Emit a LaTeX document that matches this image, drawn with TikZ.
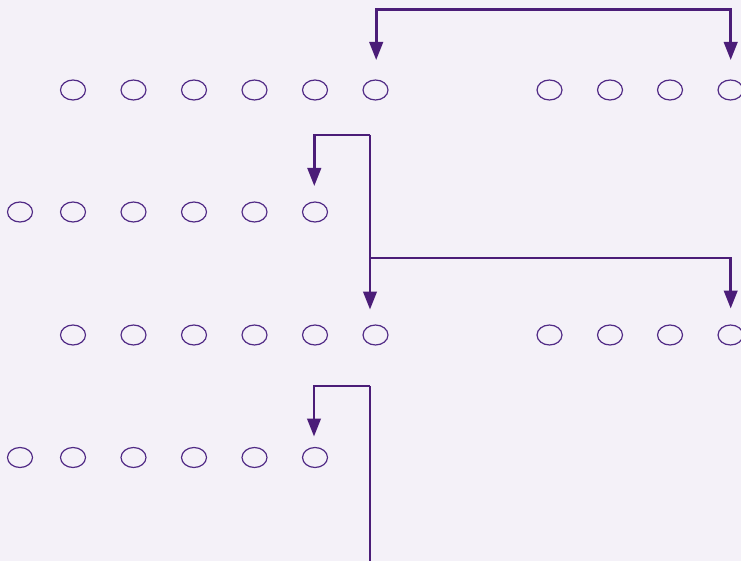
\documentclass[tikz,border=0pt]{standalone}
\usetikzlibrary{arrows.meta,calc,shapes.geometric}
\definecolor{bgc}{HTML}{F4F1F8}
\definecolor{pur}{HTML}{4B1D78}
\definecolor{ell}{HTML}{502A85}
\tikzset{
  dot/.style={draw=ell,line width=1.2pt,ellipse,minimum width=25pt,minimum height=20pt,inner sep=0pt},
  conn/.style={draw=pur,line width=2.6pt},
  tipst/.tip={Triangle[length=18pt,width=13.5pt]},
  arr/.style={conn,-tipst},
  arrboth/.style={conn,tipst-tipst}
}
\begin{document}
\begin{tikzpicture}[x=1pt,y=-1pt]
\fill[bgc] (0,0) rectangle (741,561);
\useasboundingbox (0,0) rectangle (741,561);
\foreach \n/\x in {1/73,2/133.5,3/194,4/254.5,5/315,6/375.5,7/549.5,8/610,9/670,10/730.5}{
  \node[dot] (a\n) at (\x,90) {};
  \node[dot] (c\n) at (\x,335) {};
}
\foreach \n/\x in {1/20,2/73,3/133.5,4/194,5/254.5,6/315}{
  \node[dot] (b\n) at (\x,212) {};
  \node[dot] (d\n) at (\x,457.5) {};
}
% junctions
\coordinate (t1) at (553,9.3);
\coordinate (j2) at (370,135);
\coordinate (j4) at (370,258);
\coordinate (j3) at (370,386);
\coordinate (bot) at (370,565);
% top bracket
\draw[arrboth] ($(a6)+(0.7,-30)$) |- (t1) -| ($(a10)+(0.2,-30)$);
% second group
\draw[arr] (j2) -| ($(b6)+(-0.7,-26)$);
\draw[arr] (j2) -- ($(c6)+(-5.5,-25.5)$);
\draw[arr] (j4) -| ($(c10)+(0.2,-26.5)$);
% third group
\draw[arr] (j3) -| ($(d6)+(-1,-21)$);
\draw[conn] (j3) -- (bot);
\end{tikzpicture}
\end{document}
